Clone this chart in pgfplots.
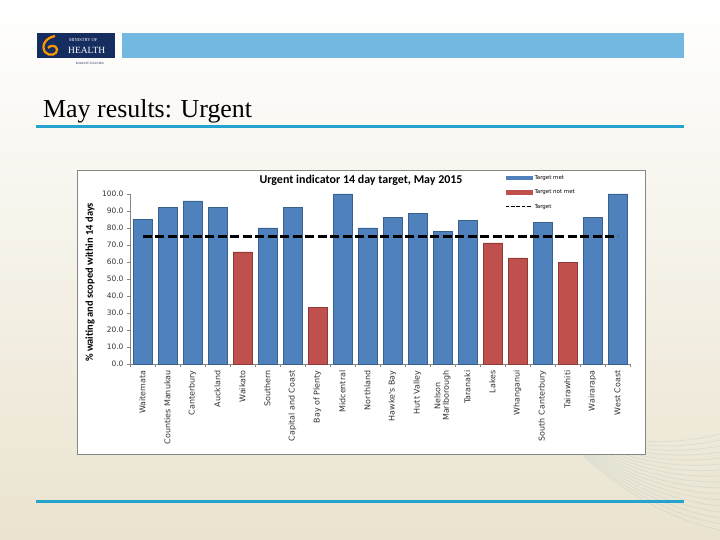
\documentclass[border=0pt]{standalone}
\usepackage{fontspec}
\setmainfont{Carlito}
\newfontfamily\dejavu{DejaVu Sans}
\newfontfamily\libserif{Liberation Serif}
\usepackage{pgfplots}
\pgfplotsset{compat=1.18}

\definecolor{barblue}{RGB}{79,129,189}
\definecolor{barblueedge}{RGB}{58,96,142}
\definecolor{barred}{RGB}{192,80,77}
\definecolor{barrededge}{RGB}{142,58,55}
\definecolor{headblue}{RGB}{114,184,224}
\definecolor{rulecol}{RGB}{38,162,206}
\definecolor{navy}{RGB}{22,45,95}
\definecolor{beige}{RGB}{234,227,207}
\definecolor{axgray}{RGB}{134,134,134}

\begin{document}
\begin{tikzpicture}[x=1bp,y=1bp]
\useasboundingbox (0,0) rectangle (720,540);
% slide background
\shade[top color=white, middle color=white, bottom color=beige] (0,0) rectangle (720,540);
\foreach \r in {0,4,...,64}
  \draw[cyan!50!gray, opacity=0.18, line width=0.6bp] (540,130) .. controls (590,70+\r/2) and (650,25+\r) .. (720,10+\r*1.5);

% header
\fill[navy] (37,482) rectangle (115,507);
\fill[headblue] (122,482) rectangle (684,507);
\draw[orange!80!yellow, line width=2.2bp] (55,504) .. controls (45,502) and (41,494) .. (45,488)
  .. controls (49,483) and (58,485) .. (57,491) .. controls (56,495) and (50,495) .. (48,492);
\node[white, anchor=west, inner sep=0, font=\libserif\fontsize{4.5}{5}\selectfont] at (69,500) {MINISTRY OF};
\node[white, anchor=west, inner sep=0, font=\libserif\fontsize{9.5}{10}\selectfont] at (68,490) {HEALTH};
\node[navy, inner sep=0, font=\libserif\fontsize{3.2}{4}\selectfont] at (90,477) {MANATŪ HAUORA};

% slide title and rules
\node[anchor=base west, inner sep=0, font=\libserif\fontsize{26}{28}\selectfont] at (43,422) {May results: Urgent};
\fill[rulecol] (36,411.5) rectangle (684,414.5);
\fill[rulecol] (36,36.5) rectangle (684,39.5);

% chart frame
\draw[axgray, fill=white] (77.5,86) rectangle (645,370);

\begin{axis}[
  at={(130bp,176bp)}, anchor=south west,
  scale only axis, width=500bp, height=170bp,
  xmin=-0.5, xmax=19.5, ymin=0, ymax=100,
  axis lines*=left,
  axis line style={draw=axgray},
  tick align=outside,
  ytick={0,10,...,100},
  major tick length=3bp, minor tick length=3bp,
  y tick style={draw=axgray},
  major x tick style={draw=none},
  minor x tick style={draw=axgray},
  minor xtick={-0.5,0.5,...,19.5},
  xtick={0,...,19},
  xticklabels={Waitemata,Counties Manukau,Canterbury,Auckland,Waikato,Southern,Capital and Coast,Bay of Plenty,Midcentral,Northland,Hawke's Bay,Hutt Valley,{Nelson\\Marlborough},Taranaki,Lakes,Whanganui,South Canterbury,Tairawhiti,Wairarapa,West Coast},
  x tick label style={rotate=90, anchor=east, align=center, font=\dejavu\fontsize{8}{8.5}\selectfont, text=black!80},
  y tick label style={font=\dejavu\fontsize{7.5}{9}\selectfont, text=black!80},
  yticklabel style={/pgf/number format/.cd, fixed, fixed zerofill, precision=1},
  /pgf/number format/assume math mode=true,
  ylabel={\% waiting and scoped within 14 days},
  ylabel style={at={(axis description cs:-0.08,0.48)}, anchor=center, font=\bfseries\fontsize{10.5}{12}\selectfont},
  title={Urgent indicator 14 day target, May 2015},
  title style={at={(axis description cs:0.462,1.047)}, anchor=center, font=\bfseries\fontsize{12}{14}\selectfont},
  legend style={at={(axis description cs:0.748,1.13)}, anchor=north west, draw=none, fill=none,
    font=\dejavu\fontsize{5.5}{6}\selectfont, row sep=5bp, inner sep=1bp},
  legend cell align=left,
  clip=false,
]
\addplot[ybar, bar width=19bp, bar shift=0pt, fill=barblue, draw=barblueedge,
  legend image code/.code={\fill[barblue] (0bp,-1.6bp) rectangle (26bp,1.6bp);}]
  coordinates {(0,85) (1,92) (2,96) (3,92) (5,80) (6,92) (8,100) (9,80) (10,86.3)
               (11,88.8) (12,78) (13,84.5) (16,83.3) (18,86.3) (19,100)};
\addlegendentry{Target met}
\addplot[ybar, bar width=19bp, bar shift=0pt, fill=barred, draw=barrededge,
  legend image code/.code={\fill[barred] (0bp,-1.6bp) rectangle (26bp,1.6bp);}]
  coordinates {(4,66) (7,33.5) (14,71.2) (15,62.4) (17,59.8)};
\addlegendentry{Target not met}
\addplot[black, line width=3bp, dash pattern=on 9bp off 3.5bp,
  legend image code/.code={\draw[black, line width=1.3bp, dash pattern=on 3.5bp off 1.8bp] (0bp,0bp) -- (26bp,0bp);}]
  coordinates {(0,75) (19,75)};
\addlegendentry{Target}
\end{axis}
\end{tikzpicture}
\end{document}
